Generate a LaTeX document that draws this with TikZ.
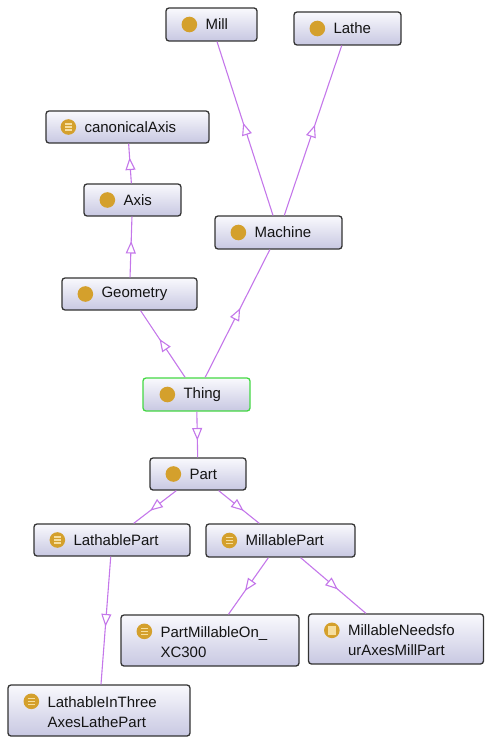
\documentclass[tikz,border=0pt]{standalone}
\usepackage{fontspec}
\setmainfont{Liberation Sans}
\usetikzlibrary{arrows.meta,decorations.markings}
\definecolor{icgold}{HTML}{D4A02C}
\definecolor{iclight}{HTML}{F6DE9E}
\definecolor{bord}{HTML}{333333}
\definecolor{ftop}{HTML}{F9F9FD}
\definecolor{fbot}{HTML}{C8C8E2}
\definecolor{thingbord}{HTML}{44D844}
\definecolor{edgec}{HTML}{C477EA}
\definecolor{txt}{HTML}{141414}
\tikzset{
  cls/.style={draw=bord, line width=1.3pt, rounded corners=3pt, top color=ftop, bottom color=fbot, inner sep=0pt},
  lbl/.style={anchor=west, inner sep=0pt, text=txt, font=\fontsize{15}{20}\selectfont, align=left},
  isa/.style={draw=edgec, line width=1.1pt, postaction={decorate},
    decoration={markings, mark=at position 0.5 with {\arrow[xshift=6pt]{Triangle[length=12.5pt,width=10pt,fill=white,line width=1.1pt]}}}},
  ic/.pic={\fill[icgold] (0,0) circle (7.8pt);},
  ieq/.pic={\fill[icgold] (0,0) circle (7.8pt);
    \draw[iclight, line width=1.3pt] (-3.6pt,2.9pt)--(3.6pt,2.9pt) (-3.6pt,0pt)--(3.6pt,0pt) (-3.6pt,-2.9pt)--(3.6pt,-2.9pt);},
  isq/.pic={\fill[icgold] (0,0) circle (7.8pt); \fill[iclight] (-4.2pt,-4.2pt) rectangle (4.2pt,4.2pt);}
}
\begin{document}
\begin{tikzpicture}[x=1pt,y=-1pt]
\useasboundingbox (0,0) rectangle (484,738);
\coordinate (cmill) at (211.5,24.5);
\coordinate (clathe) at (347.5,28.5);
\coordinate (ccanon) at (127.5,127);
\coordinate (caxis) at (132.5,200);
\coordinate (cmachine) at (278.5,232.5);
\coordinate (cgeometry) at (129.5,294);
\coordinate (cthing) at (196.5,394.5);
\coordinate (cpart) at (198,474);
\coordinate (clathable) at (112,540);
\coordinate (cmillable) at (280.5,540.5);
\coordinate (cpmxc) at (210,640.5);
\coordinate (cmneeds) at (396,639);
\coordinate (clathe3) at (99,710.5);

\node[cls, minimum width=91pt, minimum height=33pt] (mill) at (cmill) {};
\node[cls, minimum width=107pt, minimum height=33pt] (lathe) at (clathe) {};
\node[cls, minimum width=163pt, minimum height=32pt] (canon) at (ccanon) {};
\node[cls, minimum width=97pt, minimum height=32pt] (axis) at (caxis) {};
\node[cls, minimum width=127pt, minimum height=33pt] (machine) at (cmachine) {};
\node[cls, minimum width=135pt, minimum height=32pt] (geometry) at (cgeometry) {};
\node[cls, draw=thingbord, minimum width=107pt, minimum height=33pt] (thing) at (cthing) {};
\node[cls, minimum width=96pt, minimum height=32pt] (part) at (cpart) {};
\node[cls, minimum width=156pt, minimum height=32pt] (lathable) at (clathable) {};
\node[cls, minimum width=149pt, minimum height=33pt] (millable) at (cmillable) {};
\node[cls, minimum width=178pt, minimum height=51pt] (pmxc) at (cpmxc) {};
\node[cls, minimum width=175pt, minimum height=50pt] (mneeds) at (cmneeds) {};
\node[cls, minimum width=182pt, minimum height=51pt] (lathe3) at (clathe3) {};

\draw[isa] (machine) -- (mill);
\draw[isa] (machine) -- (lathe);
\draw[isa] (axis) -- (canon);
\draw[isa] (geometry) -- (axis);
\draw[isa] (thing) -- (geometry);
\draw[isa] (thing) -- (machine);
\draw[isa] (thing) -- (part);
\draw[isa] (part) -- (lathable);
\draw[isa] (part) -- (millable);
\draw[isa] (millable) -- (pmxc);
\draw[isa] (millable) -- (mneeds);
\draw[isa] (lathable) -- (lathe3);

\pic at ([xshift=24pt]mill.west) {ic};
\node[lbl] (mill-t) at ([xshift=40pt]mill.west) {Mill};
\pic at ([xshift=24pt]lathe.west) {ic};
\node[lbl] (lathe-t) at ([xshift=40pt]lathe.west) {Lathe};
\pic at ([xshift=23pt]canon.west) {ieq};
\node[lbl] (canon-t) at ([xshift=39pt]canon.west) {canonicalAxis};
\pic at ([xshift=24pt]axis.west) {ic};
\node[lbl] (axis-t) at ([xshift=40pt]axis.west) {Axis};
\pic at ([xshift=24pt]machine.west) {ic};
\node[lbl] (machine-t) at ([xshift=40pt]machine.west) {Machine};
\pic at ([xshift=24pt]geometry.west) {ic};
\node[lbl] (geometry-t) at ([xshift=40pt]geometry.west) {Geometry};
\pic at ([xshift=25pt]thing.west) {ic};
\node[lbl] (thing-t) at ([xshift=41pt]thing.west) {Thing};
\pic at ([xshift=24pt]part.west) {ic};
\node[lbl] (part-t) at ([xshift=40pt]part.west) {Part};
\pic at ([xshift=24pt]lathable.west) {ieq};
\node[lbl] (lathable-t) at ([xshift=40pt]lathable.west) {LathablePart};
\pic at ([xshift=24pt]millable.west) {ieq};
\node[lbl] (millable-t) at ([xshift=40pt]millable.west) {MillablePart};
\pic at ([xshift=24pt,yshift=-17pt]pmxc.north west) {ieq};
\node[lbl] (pmxc-t) at ([xshift=40pt,yshift=-1.5pt]pmxc.west) {PartMillableOn\_\\XC300};
\pic at ([xshift=24pt,yshift=-17pt]mneeds.north west) {isq};
\node[lbl] (mneeds-t) at ([xshift=40pt,yshift=-1.5pt]mneeds.west) {MillableNeedsfo\\urAxesMillPart};
\pic at ([xshift=24pt,yshift=-17pt]lathe3.north west) {ieq};
\node[lbl] (lathe3-t) at ([xshift=40pt,yshift=-1.5pt]lathe3.west) {LathableInThree\\AxesLathePart};
\end{tikzpicture}
\end{document}
